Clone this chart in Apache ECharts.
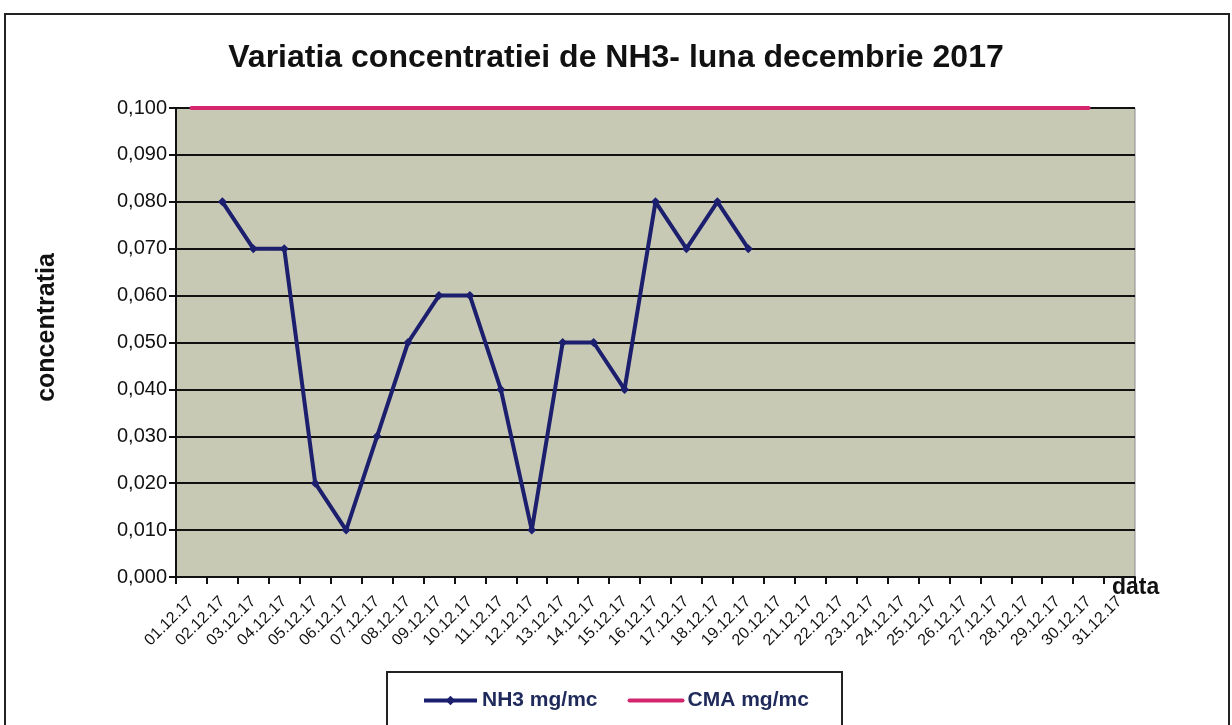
<!DOCTYPE html>
<html>
<head>
<meta charset="utf-8">
<script src="https://cdn.jsdelivr.net/npm/echarts@6/dist/echarts.min.js"></script>
<style>html,body{margin:0;padding:0;background:#fff;}#c{width:1232px;height:725px;}</style>
</head>
<body>
<div id="c"></div>
<script>
const titleText = 'Variatia concentratiei de NH3- luna decembrie 2017';
const xAxisName = 'data';
const yAxisName = 'concentratia';
const categories = ['01.12.17','02.12.17','03.12.17','04.12.17','05.12.17','06.12.17','07.12.17','08.12.17','09.12.17','10.12.17','11.12.17','12.12.17','13.12.17','14.12.17','15.12.17','16.12.17','17.12.17','18.12.17','19.12.17','20.12.17','21.12.17','22.12.17','23.12.17','24.12.17','25.12.17','26.12.17','27.12.17','28.12.17','29.12.17','30.12.17','31.12.17'];
const nh3 = [null,0.08,0.07,0.07,0.02,0.01,0.03,0.05,0.06,0.06,0.04,0.01,0.05,0.05,0.04,0.08,0.07,0.08,0.07,null,null,null,null,null,null,null,null,null,null,null,null];
const cma = [0.1,0.1,0.1,0.1,0.1,0.1,0.1,0.1,0.1,0.1,0.1,0.1,0.1,0.1,0.1,0.1,0.1,0.1,0.1,0.1,0.1,0.1,0.1,0.1,0.1,0.1,0.1,0.1,0.1,0.1,null];
const seriesNames = ['NH3 mg/mc','CMA mg/mc'];

const chart = echarts.init(document.getElementById('c'), null, {renderer:'canvas'});
const font = '"Liberation Sans", Arial, sans-serif';
chart.setOption({
  animation:false,
  backgroundColor:'#ffffff',
  title:{text:titleText,left:'center',top:37,
    textStyle:{fontFamily:font,fontWeight:'bold',fontSize:32,color:'#111'}},
  graphic:[
    {type:'rect',shape:{x:5,y:14,width:1224,height:760},style:{fill:'none',stroke:'#222',lineWidth:2},z:-1},
    {type:'rect',shape:{x:387,y:672,width:455,height:80},style:{fill:'#fff',stroke:'#222',lineWidth:2},z:0},
    {type:'text',left:1112,top:576,z:10,style:{text:xAxisName,fontFamily:font,fontWeight:'bold',fontSize:23,fill:'#111'}}
  ],
  legend:{left:422,top:690,itemGap:30,itemWidth:53,itemHeight:12,padding:0,
    data:[
      {name:seriesNames[0],lineStyle:{width:4}},
      {name:seriesNames[1],lineStyle:{width:4},itemStyle:{opacity:0}}
    ],
    textStyle:{fontFamily:font,fontWeight:'bold',fontSize:21,color:'#1f2a5a'},z:5},
  grid:{left:176,right:97,top:108,bottom:148,show:true,backgroundColor:'#c8c9b5',borderColor:'#8a8a8a',borderWidth:1},
  xAxis:{type:'category',data:categories,boundaryGap:true,
    axisLine:{lineStyle:{color:'#111',width:2}},
    axisTick:{show:true,inside:false,length:7,alignWithLabel:false,lineStyle:{color:'#111',width:2}},
    axisLabel:{rotate:45,interval:0,fontFamily:font,fontSize:16,color:'#111',margin:22},
    splitLine:{show:false}},
  yAxis:{type:'value',min:0,max:0.1,interval:0.01,
    name:yAxisName,nameLocation:'middle',nameGap:116,
    nameTextStyle:{fontFamily:font,fontWeight:'bold',fontSize:25,color:'#111',padding:[0,0,0,30]},
    axisLine:{show:true,lineStyle:{color:'#111',width:2}},
    axisTick:{show:true,length:7,lineStyle:{color:'#111',width:2}},
    axisLabel:{fontFamily:font,fontSize:20,color:'#111',margin:9,
      formatter:v=>v.toFixed(3).replace('.',',')},
    splitLine:{show:true,lineStyle:{color:'#111',width:2}}},
  series:[
    {name:seriesNames[0],type:'line',data:nh3,connectNulls:false,symbol:'diamond',symbolSize:9,
      lineStyle:{color:'#1c1f6e',width:4},itemStyle:{color:'#1c1f6e'},z:4},
    {name:seriesNames[1],type:'line',data:cma,symbol:'none',showSymbol:false,
      lineStyle:{color:'#d4266e',width:4,cap:'round'},itemStyle:{color:'#d4266e'},z:3}
  ]
});
</script>
</body>
</html>
